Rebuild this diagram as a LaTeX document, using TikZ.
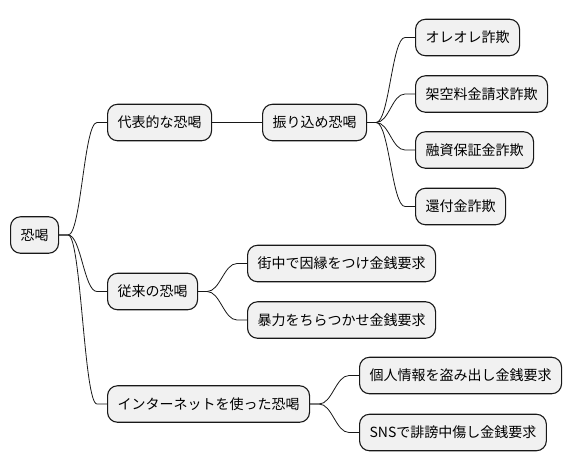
\documentclass[tikz,border=0pt]{standalone}
\usepackage{fontspec}
\setmainfont{Noto Sans CJK JP}
\usetikzlibrary{calc}
\definecolor{nodefill}{HTML}{F1F1F1}
\definecolor{nodeline}{HTML}{181818}
\tikzset{
  mmnode/.style={draw=nodeline, fill=nodefill, line width=1.1pt, rounded corners=10pt,
    minimum height=36.5pt, inner xsep=10pt, inner ysep=0pt, anchor=west,
    font=\fontsize{14pt}{16pt}\selectfont},
  mmedge/.style={to path={-- ++(9,0) .. controls +(13,0) and +(-13,0) .. ($(\tikztotarget)+(-10,0)$) -- (\tikztotarget)}},
  mmline/.style={draw=nodeline, line width=0.8pt}
}
\begin{document}
\begin{tikzpicture}[x=1pt,y=-1pt]
\useasboundingbox (0,0) rectangle (572,471);
\node[mmnode] (root) at (10,235) {恐喝};
\node[mmnode] (a) at (107,122.5) {代表的な恐喝};
\node[mmnode] (a1) at (262,122.5) {振り込め恐喝};
\node[mmnode] (a11) at (415,37.5) {オレオレ詐欺};
\node[mmnode] (a12) at (415,94) {架空料金請求詐欺};
\node[mmnode] (a13) at (415,150) {融資保証金詐欺};
\node[mmnode] (a14) at (415,206.5) {還付金詐欺};
\node[mmnode] (b) at (107,291.5) {従来の恐喝};
\node[mmnode] (b1) at (247,263.5) {街中で因縁をつけ金銭要求};
\node[mmnode] (b2) at (247,320) {暴力をちらつかせ金銭要求};
\node[mmnode] (c) at (107,404) {インターネットを使った恐喝};
\node[mmnode] (c1) at (359,375.5) {個人情報を盗み出し金銭要求};
\node[mmnode] (c2) at (359,432.5) {SNSで誹謗中傷し金銭要求};
\draw[mmline] (root.east) to[mmedge] (a.west);
\draw[mmline] (root.east) to[mmedge] (b.west);
\draw[mmline] (root.east) to[mmedge] (c.west);
\draw[mmline] (a.east) -- (a1.west);
\draw[mmline] (a1.east) to[mmedge] (a11.west);
\draw[mmline] (a1.east) to[mmedge] (a12.west);
\draw[mmline] (a1.east) to[mmedge] (a13.west);
\draw[mmline] (a1.east) to[mmedge] (a14.west);
\draw[mmline] (b.east) to[mmedge] (b1.west);
\draw[mmline] (b.east) to[mmedge] (b2.west);
\draw[mmline] (c.east) to[mmedge] (c1.west);
\draw[mmline] (c.east) to[mmedge] (c2.west);
\end{tikzpicture}
\end{document}
